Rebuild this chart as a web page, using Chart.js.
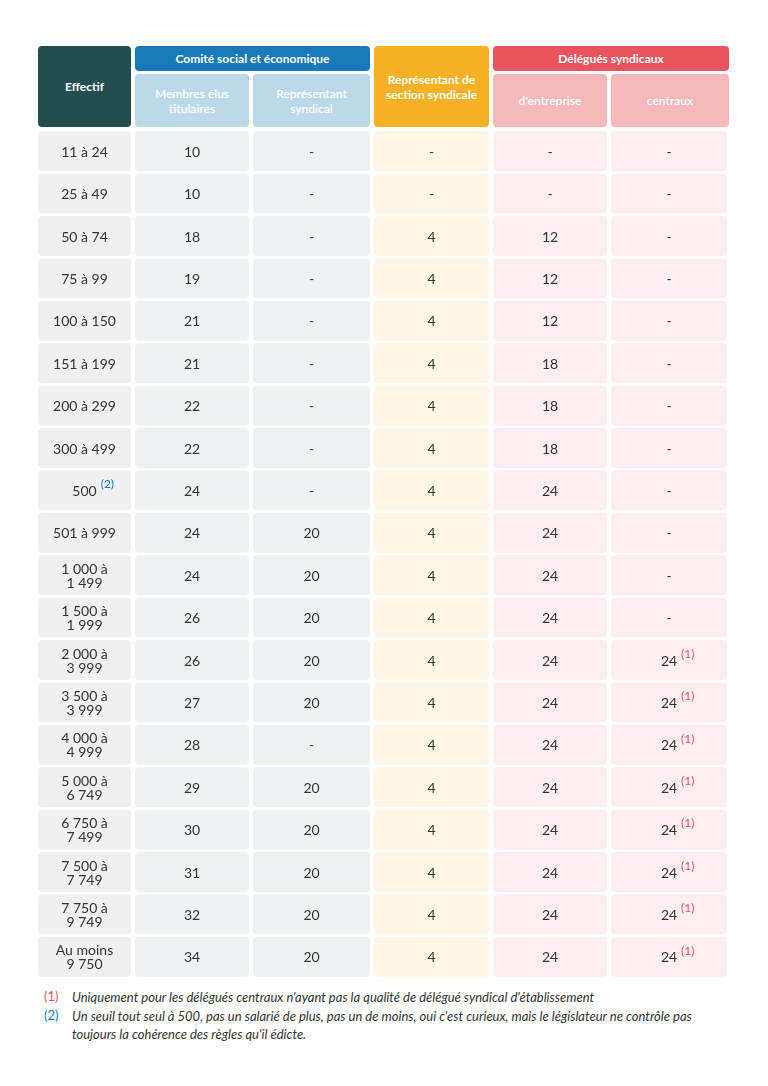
<!DOCTYPE html>
<html><head><meta charset="utf-8">
<script src="https://cdn.jsdelivr.net/npm/chart.js@4.4.0/dist/chart.umd.min.js"></script>
<style>
body{margin:0;background:#fff;font-family:Lato,"Open Sans",sans-serif;width:768px;height:1086px;position:relative;overflow:hidden}
.h{position:absolute;color:#fff;font-weight:bold;font-size:12px;display:flex;align-items:center;justify-content:center;text-align:center;border-radius:4px;line-height:15px}
.s{font-weight:600}
#wrap{position:absolute;left:38px;top:130px;width:691px;height:848px}
.fn{position:absolute;left:72px;font-size:13px;font-style:italic;color:#333;width:660px;line-height:18px}
.fm{position:absolute;left:44px;font-size:13px}
</style></head><body>
<div class="h" style="left:38px;top:46px;width:93px;height:81px;background:#234d4f">Effectif</div>
<div class="h" style="left:135px;top:46px;width:235px;height:25px;background:#1a7ab8">Comité social et économique</div>
<div class="h s" style="left:135px;top:74px;width:114px;height:53px;background:#bcd9ea">Membres élus<br>titulaires</div>
<div class="h s" style="left:253px;top:74px;width:117px;height:53px;background:#bcd9ea">Représentant<br>syndical</div>
<div class="h" style="left:374px;top:46px;width:115px;height:81px;background:#f6b224">Représentant de<br>section syndicale</div>
<div class="h" style="left:493px;top:46px;width:236px;height:25px;background:#e9545e">Délégués syndicaux</div>
<div class="h s" style="left:493px;top:74px;width:114px;height:53px;background:#f5b8bb">d'entreprise</div>
<div class="h s" style="left:611px;top:74px;width:118px;height:53px;background:#f5b8bb">centraux</div>
<div id="wrap"><canvas id="c"></canvas></div>
<div class="fm" style="top:988px;color:#e9545e">(1)</div>
<div class="fn" style="top:988px">Uniquement pour les délégués centraux n'ayant pas la qualité de délégué syndical d'établissement</div>
<div class="fm" style="top:1007px;color:#1a7ab8">(2)</div>
<div class="fn" style="top:1007px">Un seuil tout seul à 500, pas un salarié de plus, pas un de moins, oui c'est curieux, mais le législateur ne contrôle pas toujours la cohérence des règles qu'il édicte.</div>
<script>
var effectif = ['11 à 24','25 à 49','50 à 74','75 à 99','100 à 150','151 à 199','200 à 299','300 à 499','500','501 à 999',
  '1 000 à\n1 499','1 500 à\n1 999','2 000 à\n3 999','3 500 à\n3 999','4 000 à\n4 999','5 000 à\n6 749','6 750 à\n7 499','7 500 à\n7 749','7 750 à\n9 749','Au moins\n9 750'];
var membres = ['10','10','18','19','21','21','22','22','24','24','24','26','26','27','28','29','30','31','32','34'];
var repSyndical = ['-','-','-','-','-','-','-','-','-','20','20','20','20','20','-','20','20','20','20','20'];
var rss = ['-','-','4','4','4','4','4','4','4','4','4','4','4','4','4','4','4','4','4','4'];
var dsEntreprise = ['-','-','12','12','12','18','18','18','24','24','24','24','24','24','24','24','24','24','24','24'];
var dsCentraux = ['-','-','-','-','-','-','-','-','-','-','-','-','24','24','24','24','24','24','24','24'];
var notes2 = ['500'];
var columns = [effectif, membres, repSyndical, rss, dsEntreprise, dsCentraux];
var colEdges = [0, 95, 213, 334, 453, 571, 691];
var colColors = ['#f0f0f1','#eef2f5','#eef2f5','#fef7e6','#fdeeef','#fdeeef'];

var datasets = columns.map(function(col, c) {
    return {
        data: col.map(function() { return [colEdges[c] + (c ? 2 : 0), colEdges[c + 1] - 2]; }),
        backgroundColor: colColors[c],
        borderRadius: 4,
        borderSkipped: false,
        grouped: false,
        barPercentage: 1,
        categoryPercentage: 0.94
    };
});

var cellText = {
    id: 'cellText',
    afterDatasetsDraw: function(chart) {
        var ctx = chart.ctx;
        ctx.save();
        ctx.textAlign = 'center';
        ctx.textBaseline = 'middle';
        columns.forEach(function(col, c) {
            var meta = chart.getDatasetMeta(c);
            meta.data.forEach(function(bar, r) {
                var lines = col[r].split('\n');
                var x = bar.base + (bar.x - bar.base) / 2;
                ctx.font = '14px Lato, "Open Sans", sans-serif';
                ctx.fillStyle = '#333';
                lines.forEach(function(t, i) {
                    ctx.fillText(t, x, bar.y + (i - (lines.length - 1) / 2) * 14 + 1);
                });
                var sup = null, color;
                if (c === 0 && notes2.indexOf(col[r]) >= 0) { sup = '(2)'; color = '#1a7ab8'; }
                if (c === 5 && col[r] !== '-') { sup = '(1)'; color = '#e9545e'; }
                if (sup) {
                    var w = ctx.measureText(col[r]).width;
                    ctx.font = '12px Lato, "Open Sans", sans-serif';
                    ctx.fillStyle = color;
                    ctx.textAlign = 'left';
                    ctx.fillText(sup, x + w / 2 + 4, bar.y - 6);
                    ctx.textAlign = 'center';
                }
            });
        });
        ctx.restore();
    }
};

new Chart(document.getElementById('c'), {
    type: 'bar',
    data: { labels: effectif, datasets: datasets },
    options: {
        indexAxis: 'y',
        responsive: true,
        maintainAspectRatio: false,
        animation: false,
        layout: { padding: 0 },
        plugins: { legend: { display: false }, tooltip: { enabled: false } },
        scales: {
            x: { type: 'linear', min: 0, max: 691, display: false },
            y: { display: false }
        }
    },
    plugins: [cellText]
});
</script>
</body></html>
